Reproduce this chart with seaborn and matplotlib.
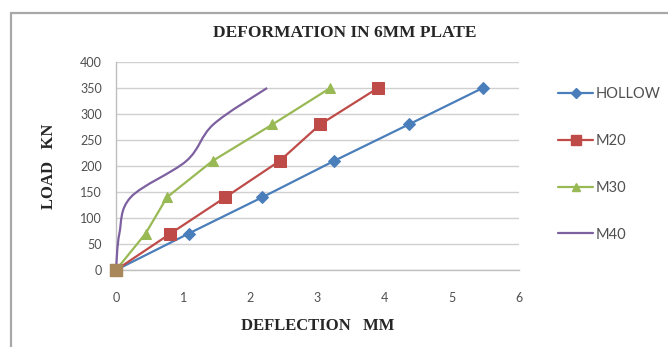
import matplotlib
matplotlib.use("Agg")
import matplotlib.pyplot as plt
import seaborn as sns
import pandas as pd
import numpy as np
from matplotlib.path import Path
from matplotlib.patches import PathPatch, Rectangle
from matplotlib.lines import Line2D

# ---- data ----
load = [0, 70, 140, 210, 280, 350]
hollow_x = [0, 1.08, 2.18, 3.25, 4.36, 5.46]
m20_x = [0, 0.81, 1.63, 2.44, 3.04, 3.9]
m30_x = [0, 0.44, 0.76, 1.44, 2.33, 3.19]
m40_x = [0, 0.05, 0.22, 1.05, 1.45, 2.25]
series_names = ["HOLLOW", "M20", "M30", "M40"]
x_ticks = [0, 1, 2, 3, 4, 5, 6]
y_ticks = [0, 50, 100, 150, 200, 250, 300, 350, 400]

colors = {"HOLLOW": "#4A7EBB", "M20": "#BE4B48", "M30": "#98B954", "M40": "#7D60A0"}
markers = {"HOLLOW": "D", "M20": "s", "M30": "^", "M40": ""}
msizes = {"HOLLOW": 6, "M20": 9, "M30": 7.5, "M40": 0}

sns.set_style("white")
plt.rcParams["font.family"] = ["Lato", "DejaVu Sans"]

fig = plt.figure(figsize=(6.68, 3.47), dpi=100)
fig.patch.set_facecolor("white")
W, H = 668, 347
ax = fig.add_axes([116 / W, 1 - 270 / H, (519 - 116) / W, (270 - 62) / H])

# chart border
fig.patches.append(Rectangle((11 / W, -0.1), 1.2, (H - 13) / H + 0.1,
                             transform=fig.transFigure, fill=False,
                             edgecolor="#a8a8a8", linewidth=1.6, zorder=0))

df = pd.DataFrame({
    "x": hollow_x + m20_x + m30_x,
    "y": load * 3,
    "s": ["HOLLOW"] * 6 + ["M20"] * 6 + ["M30"] * 6,
})
for name in ["HOLLOW", "M20", "M30"]:
    sub = df[df.s == name]
    sns.lineplot(data=sub, x="x", y="y", ax=ax, color=colors[name],
                 marker=markers[name], markersize=msizes[name],
                 markeredgecolor=colors[name], linewidth=1.6,
                 sort=False, estimator=None, legend=False, zorder=3,
                 clip_on=False)

# M40: smoothed line (Catmull-Rom style Bezier through data points)
pts = np.column_stack([m40_x, load]).astype(float)
verts = [tuple(pts[0])]
codes = [Path.MOVETO]
n = len(pts)
for i in range(n - 1):
    p0 = pts[i - 1] if i > 0 else pts[i]
    p1 = pts[i]
    p2 = pts[i + 1]
    p3 = pts[i + 2] if i + 2 < n else pts[i + 1]
    c1 = p1 + (p2 - p0) / 6.0
    c2 = p2 - (p3 - p1) / 6.0
    verts += [tuple(c1), tuple(c2), tuple(p2)]
    codes += [Path.CURVE4] * 3
ax.add_patch(PathPatch(Path(verts, codes), fill=False,
                       edgecolor=colors["M40"], linewidth=1.6, zorder=3,
                       clip_on=False))

# origin marker overlap (brownish, as all series meet there)
ax.plot([0], [0], marker="s", markersize=9, color="#A8875A",
        linestyle="none", clip_on=False, zorder=4)

ax.set_xlim(0, 6)
ax.set_ylim(0, 400)
ax.set_xticks(x_ticks)
ax.set_yticks(y_ticks)
ax.set_xticklabels([str(t) for t in x_ticks])
ax.set_yticklabels([str(t) for t in y_ticks])
ax.grid(axis="y", color="#d0d0d0", linewidth=1)
ax.grid(axis="x", visible=False)
for sp in ["top", "right"]:
    ax.spines[sp].set_visible(False)
for sp in ["left", "bottom"]:
    ax.spines[sp].set_color("#bfbfbf")
    ax.spines[sp].set_linewidth(1)
ax.tick_params(axis="both", length=0, labelsize=9, colors="#505050")
ax.tick_params(axis="x", pad=16)
ax.tick_params(axis="y", pad=10)
ax.set_axisbelow(True)

serif = ["Liberation Serif", "DejaVu Serif"]
ax.set_xlabel("DEFLECTION   MM", fontsize=12, fontweight="bold",
              family=serif, color="#262626", labelpad=10)
ax.set_ylabel("LOAD   KN", fontsize=12, fontweight="bold",
              family=serif, color="#262626", labelpad=17)
fig.text(345 / W, 1 - 33 / H, "DEFORMATION IN 6MM PLATE", ha="center",
         va="center", fontsize=12.5, fontweight="bold", family=serif,
         color="#262626")

handles = [Line2D([0], [0], color=colors[n_], marker=markers[n_] or None,
                  markersize=msizes[n_] * 0.8, linewidth=1.6)
           for n_ in series_names]
fig.legend(handles, series_names, loc="upper left",
           bbox_to_anchor=(545 / W, 1 - 74 / H), frameon=False,
           fontsize=10.5, labelspacing=2.25, handlelength=2.4,
           handletextpad=0.2, labelcolor="#505050")

fig.savefig("out.png", dpi=100, facecolor="white")
